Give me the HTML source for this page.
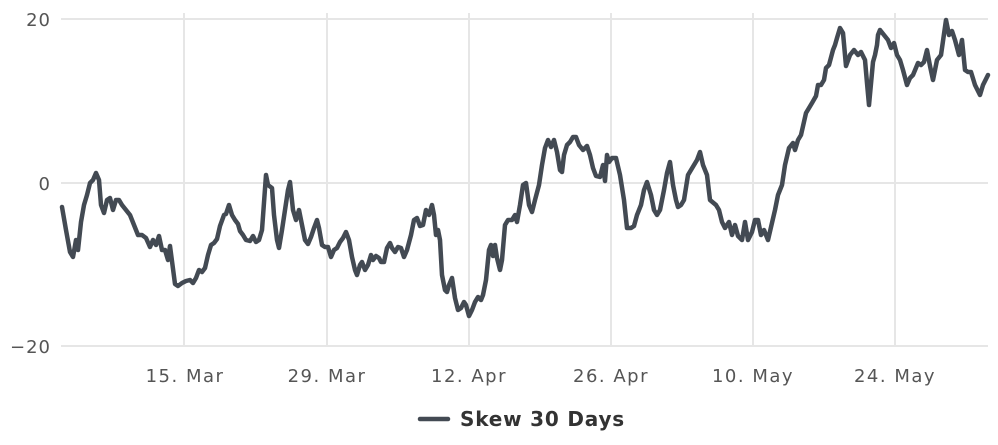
<!DOCTYPE html>
<html><head><meta charset="utf-8"><style>
html,body{margin:0;padding:0;background:#fff;width:998px;height:445px;overflow:hidden}
text{font-family:"DejaVu Sans","Liberation Sans",sans-serif}
</style></head><body>
<svg width="998" height="445" viewBox="0 0 998 445" xmlns="http://www.w3.org/2000/svg">
<g stroke="#e6e6e6" stroke-width="2">
<line x1="61" y1="19" x2="988" y2="19"/>
<line x1="61" y1="183" x2="988" y2="183"/>
<line x1="61" y1="346" x2="988" y2="346"/>
<line x1="184" y1="13" x2="184" y2="346"/>
<line x1="327" y1="13" x2="327" y2="346"/>
<line x1="469" y1="13" x2="469" y2="346"/>
<line x1="611" y1="13" x2="611" y2="346"/>
<line x1="753" y1="13" x2="753" y2="346"/>
<line x1="895" y1="13" x2="895" y2="346"/>
</g>
<g fill="#555" font-size="18" text-anchor="end" letter-spacing="1">
<text x="51" y="26">20</text>
<text x="51" y="190">0</text>
<text x="51" y="353">−20</text>
</g>
<g fill="#555" font-size="18" text-anchor="middle" letter-spacing="1.5">
<text x="185" y="382">15. Mar</text>
<text x="327" y="382">29. Mar</text>
<text x="469" y="382">12. Apr</text>
<text x="611" y="382">26. Apr</text>
<text x="753" y="382">10. May</text>
<text x="895" y="382">24. May</text>
</g>
<polyline fill="none" stroke="#434a53" stroke-width="4.5" stroke-linejoin="round" stroke-linecap="round" points="62,207 66,230 70,252 73,257 76,240 78,250 81,222 84,205 87,195 90,183 93,180 96,173 99,180 101,205 104,213 107,200 110,198 113,210 116,200 119,200 122,205 126,210 130,215 134,225 138,235 142,235 146,238 150,247 153,240 156,245 159,236 162,250 165,250 168,260 170,246 175,284 178,286 182,283 186,281 190,280 193,283 196,278 199,270 202,272 205,268 208,255 211,245 214,243 217,239 220,226 224,215 226,214 229,205 232,215 235,220 238,224 240,231 243,235 246,240 250,241 253,236 256,242 259,240 262,230 266,175 268,185 272,188 274,215 277,240 279,248 282,230 285,210 288,190 290,182 293,210 296,220 299,210 302,225 305,240 308,244 311,237 314,228 317,220 319,228 322,245 325,247 328,247 331,257 334,250 337,248 340,242 343,238 346,232 349,240 352,257 355,270 357,275 360,265 362,262 365,270 368,265 371,255 373,260 376,256 379,258 381,262 384,262 387,248 390,243 392,248 395,252 398,247 401,248 404,257 407,250 411,235 414,220 417,218 420,226 423,225 426,210 429,215 432,205 434,215 436,235 438,230 440,240 442,275 445,290 447,292 449,285 452,278 455,298 458,310 461,308 464,302 466,305 469,316 472,310 475,302 478,297 481,300 483,295 486,280 489,250 491,245 493,256 495,245 497,258 500,270 502,260 505,225 508,220 512,220 515,215 517,222 520,205 523,185 526,183 529,205 532,212 535,200 539,185 542,165 545,148 548,140 551,147 554,140 557,152 560,170 562,172 564,155 567,145 570,142 573,137 576,137 579,145 583,150 587,146 590,155 593,168 596,176 600,177 603,165 605,181 607,155 609,162 612,158 616,158 620,175 624,200 627,228 631,228 634,226 637,215 641,205 644,190 647,182 651,195 654,210 657,215 660,210 664,190 667,173 670,162 673,185 676,200 678,207 681,205 684,200 688,175 697,160 700,152 703,165 707,175 710,200 716,205 719,210 722,222 725,228 729,222 732,235 735,225 738,236 742,240 745,222 748,240 752,232 755,220 758,220 761,235 764,230 768,240 775,210 778,195 782,185 785,165 789,148 793,143 795,150 798,140 801,135 806,113 812,103 816,96 818,85 821,85 824,80 826,68 829,65 833,50 835,45 837,38 840,28 843,33 846,66 850,55 854,50 858,55 861,52 865,60 867,83 869,105 873,62 875,55 877,45 878,35 880,30 884,35 888,40 891,48 894,43 897,55 900,60 903,70 907,85 910,78 913,75 918,63 921,65 924,62 927,50 930,66 933,80 937,60 941,55 946,20 949,35 952,31 955,40 959,55 962,40 965,70 968,72 971,72 975,85 980,95 983,85 988,75"/>
<line x1="420" y1="419" x2="448" y2="419" stroke="#434a53" stroke-width="4.5" stroke-linecap="round"/>
<text x="460" y="426" font-size="20" font-weight="bold" fill="#333" letter-spacing="0.8">Skew 30 Days</text>
</svg>
</body></html>
